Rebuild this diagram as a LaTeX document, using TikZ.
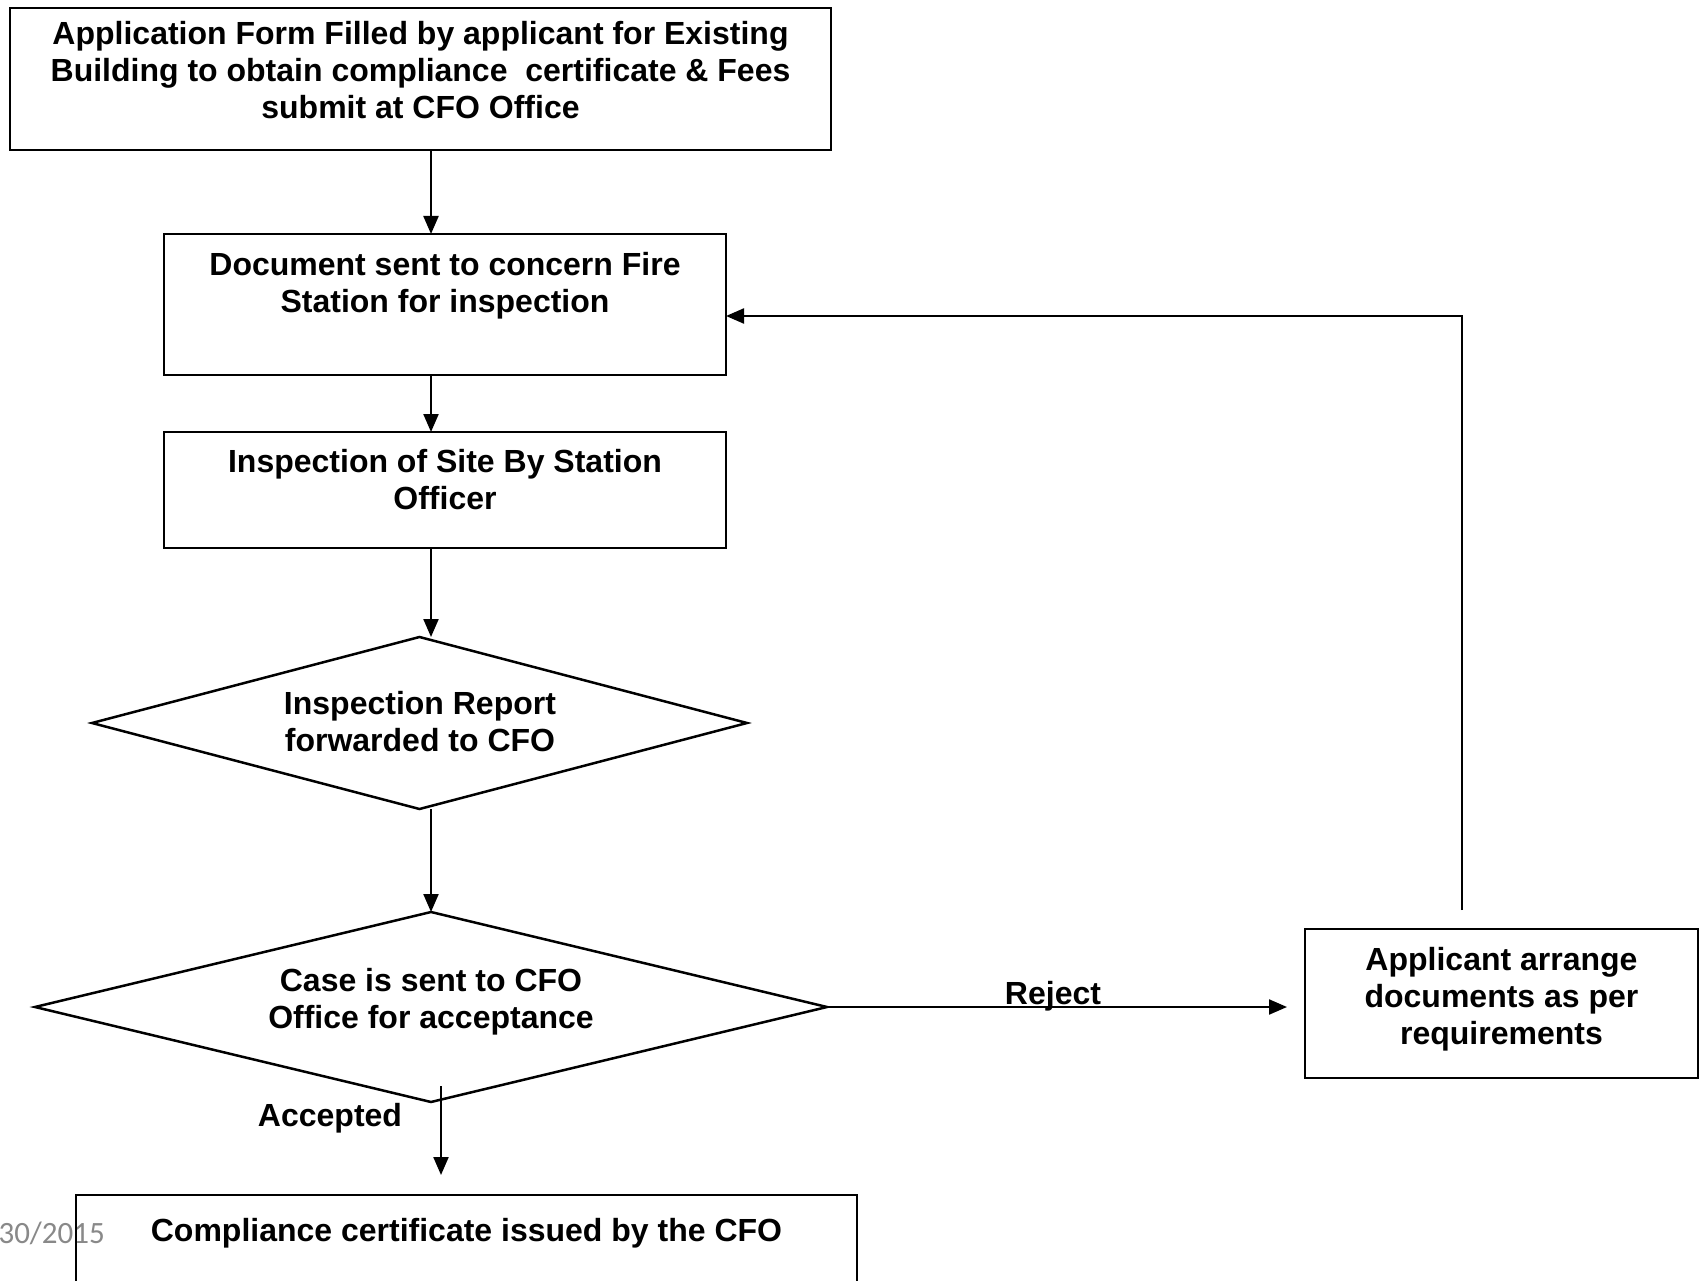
\documentclass[tikz,border=0pt]{standalone}
\usepackage{fontspec}
\setmainfont{Liberation Sans}
\newfontfamily\footfont{Carlito}
\usetikzlibrary{shapes.geometric,arrows.meta,calc}
\definecolor{footgray}{RGB}{137,137,137}
\begin{document}
\begin{tikzpicture}[x=1pt,y=1pt,
  boxnode/.style={draw, line width=2.5pt, inner sep=0pt, outer sep=0pt},
  txt/.style={font=\bfseries\fontsize{32}{37}\selectfont, align=center, inner sep=0pt},
  dia/.style={diamond, draw, line width=2.5pt, inner sep=0pt, outer sep=0pt, aspect=4},
  arr/.style={line width=2.2pt, -{Triangle[length=18pt,width=15pt]}},
  ]
\useasboundingbox (0,0) rectangle (1706,-1281);
\fill[white] (0,0) rectangle (1706,-1281);
\coordinate (col) at (431,0);

% boxes
\node[boxnode, minimum width=821, minimum height=142] (b1) at (420.5,-79) {};
\node[txt] (t1) at (420.5,-70) {Application Form Filled by applicant for Existing\\Building to obtain compliance\ \ certificate \& Fees\\submit at CFO Office};

\node[boxnode, minimum width=562, minimum height=141] (b2) at (445,-304.5) {};
\node[txt] (t2) at (445,-286) {Document sent to concern Fire\\Station for inspection};

\node[boxnode, minimum width=562, minimum height=116] (b3) at (445,-490) {};
\node[txt] (t3) at (445,-480) {Inspection of Site By Station\\Officer};

\node[dia, minimum width=655, minimum height=172] (d1) at (419.5,-723) {};
\node[txt] (t4) at (420,-721.5) {Inspection Report\\forwarded to CFO};

\node[dia, minimum width=792, minimum height=190] (d2) at (431,-1007) {};
\node[txt] (t5) at (431,-1002) {Case is sent to CFO\\Office for acceptance};

\node[boxnode, minimum width=393, minimum height=149] (b4) at (1501.5,-1003.5) {};
\node[txt] (t6) at (1501.5,-999) {Applicant arrange\\documents as per\\requirements};

\node[anchor=east, font=\footfont\fontsize{31}{31}\selectfont, text=footgray, inner sep=0pt] (date) at (105,-1233) {30/2015};

\node[boxnode, minimum width=781, minimum height=125] (b5) at (466.5,-1257.5) {};
\node[txt] (t7) at (466.5,-1233) {Compliance certificate issued by the CFO};

% connectors
\draw[arr] (b1.south -| col) -- (b2.north -| col);
\draw[arr] (b2.south -| col) -- (b3.north -| col);
\draw[arr] (b3.south -| col) -- (d1.north -| col);
\draw[arr] (d1.south -| col) -- (d2.north -| col);

\draw[arr, shorten >=18pt] (d2.east) -- (d2.east -| b4.west);
\node[txt] (rej) at (1053,-996) {Reject};

\coordinate (fbstart) at (1462,-910);
\coordinate (fbturn) at (1462,-316);
\draw[arr] (fbstart) -- (fbturn) -- (fbturn -| b2.east);

\coordinate (accstart) at (441,-1086);
\draw[arr, shorten >=20pt] (accstart) -- (accstart |- b5.north);
\node[txt] (acc) at (330,-1118) {Accepted};
\end{tikzpicture}
\end{document}
